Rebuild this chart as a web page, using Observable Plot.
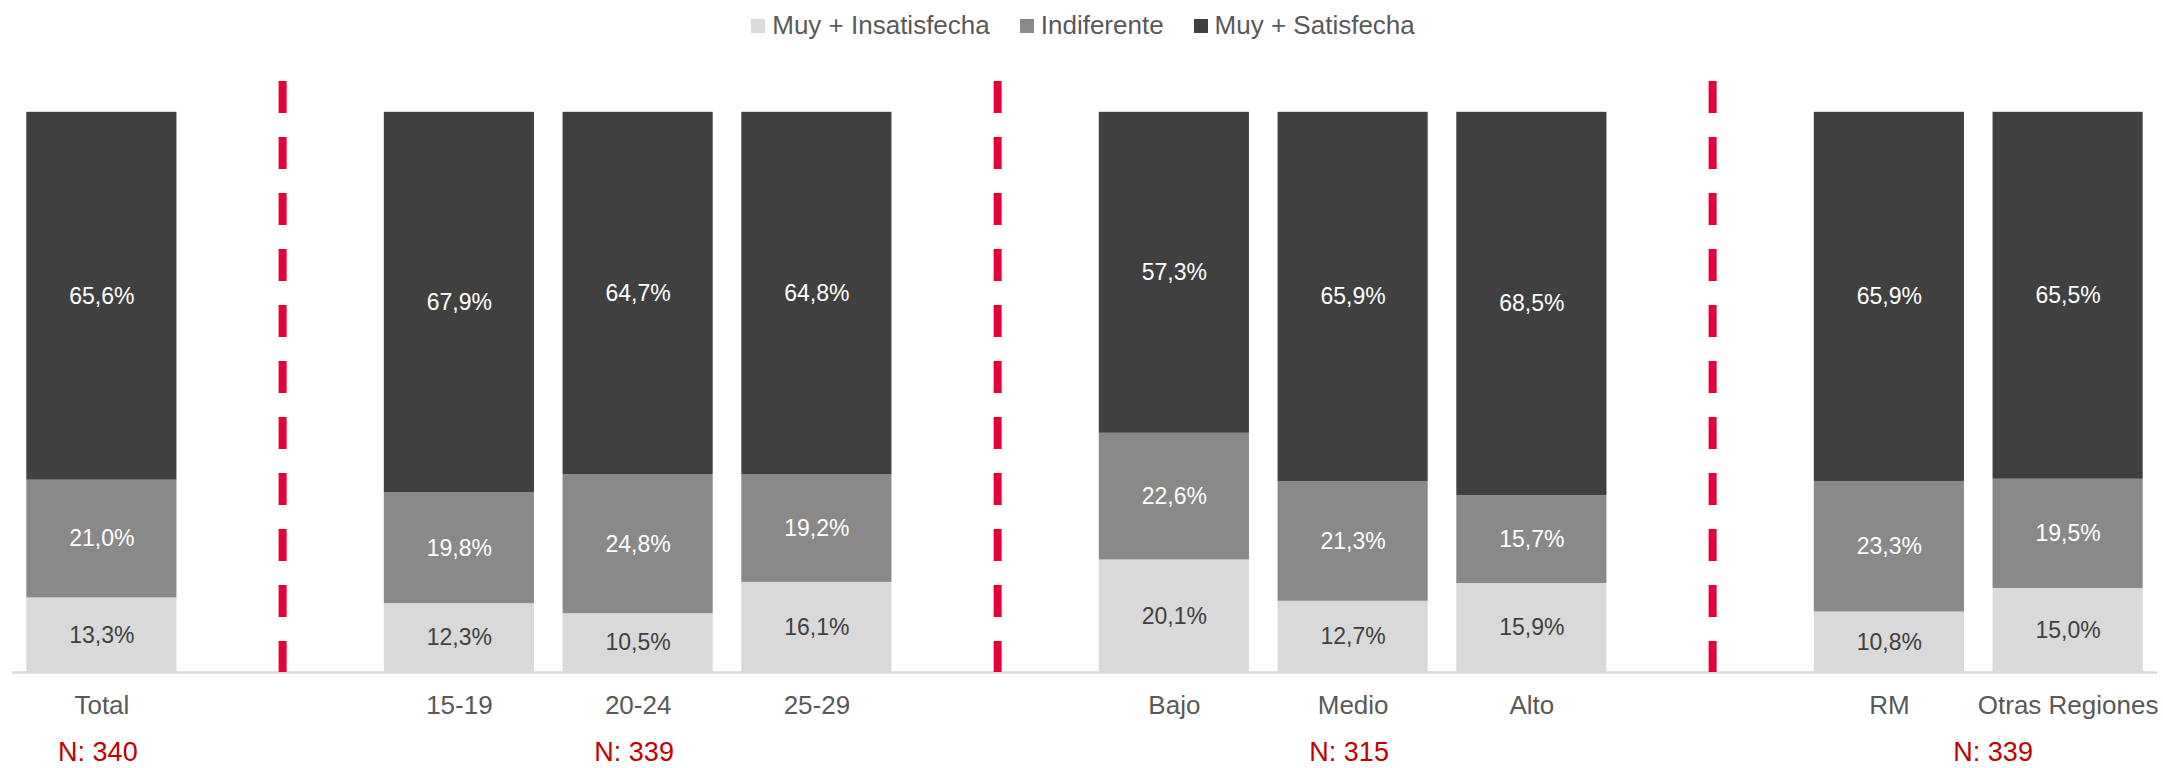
<!DOCTYPE html>
<html>
<head>
<meta charset="utf-8">
<script src="https://cdn.jsdelivr.net/npm/d3@7"></script>
<script src="https://cdn.jsdelivr.net/npm/@observablehq/plot@0.6"></script>
<style>
  html, body { margin: 0; padding: 0; background: #fff; }
  body { width: 2163px; font-family: "Liberation Sans", Arial, sans-serif; }
  #legend { height: 50px; display: flex; justify-content: center; align-items: center; padding-left: 3px; box-sizing: border-box; }
  .item { display: flex; align-items: center; margin: 0 15px; font-size: 26px; color: #595959; }
  .sw { width: 14px; height: 14px; margin-right: 7px; margin-top: 2px; }
</style>
</head>
<body>
<div id="legend"></div>
<div id="chart"></div>
<script>
// ---- data ----
const categories = ["Total", "sep1", "15-19", "20-24", "25-29", "sep2", "Bajo", "Medio", "Alto", "sep3", "RM", "Otras Regiones"];
const separators = ["sep1", "sep2", "sep3"];
const barCategories = ["Total", "15-19", "20-24", "25-29", "Bajo", "Medio", "Alto", "RM", "Otras Regiones"];
const seriesNames = ["Muy + Insatisfecha", "Indiferente", "Muy + Satisfecha"];
const insatisfecha = [13.3, 12.3, 10.5, 16.1, 20.1, 12.7, 15.9, 10.8, 15.0];
const indiferente  = [21.0, 19.8, 24.8, 19.2, 22.6, 21.3, 15.7, 23.3, 19.5];
const satisfecha   = [65.6, 67.9, 64.7, 64.8, 57.3, 65.9, 68.5, 65.9, 65.5];
const nCategories = ["Total", "20-24", "Medio", "Otras Regiones"];
const nLabels = ["N: 340", "N: 339", "N: 315", "N: 339"];

// ---- styles ----
const fills = {"Muy + Insatisfecha": "#d9d9d9", "Indiferente": "#898989", "Muy + Satisfecha": "#404040"};
const textFills = {"Muy + Insatisfecha": "#404040", "Indiferente": "#ffffff", "Muy + Satisfecha": "#ffffff"};

const seriesValues = [insatisfecha, indiferente, satisfecha];
const rows = [];
barCategories.forEach((c, i) => {
  seriesNames.forEach((s, j) => rows.push({cat: c, series: s, value: seriesValues[j][i]}));
});
const nRows = nCategories.map((c, i) => ({cat: c, label: nLabels[i]}));
const fmt = v => v.toFixed(1).replace(".", ",") + "%";

// legend
const legend = document.getElementById("legend");
seriesNames.forEach(s => {
  const it = document.createElement("div");
  it.className = "item";
  const sw = document.createElement("div");
  sw.className = "sw";
  sw.style.background = fills[s];
  const t = document.createElement("span");
  t.textContent = s;
  it.appendChild(sw); it.appendChild(t);
  legend.appendChild(it);
});

const stackOpts = {x: "cat", y: "value", z: "series", offset: "normalize", order: seriesNames};

const chart = Plot.plot({
  width: 2163,
  height: 718,
  marginLeft: 12,
  marginRight: 6,
  marginTop: 31,
  marginBottom: 96,
  style: {fontFamily: '"Liberation Sans", Arial, sans-serif', background: "#fff"},
  x: {type: "band", domain: categories, paddingInner: 0.16, paddingOuter: 0.08, round: false, axis: null},
  y: {domain: [0, 1.055], axis: null},
  color: {type: "identity"},
  marks: [
    Plot.barY(rows, Plot.stackY({...stackOpts, fill: d => fills[d.series]})),
    Plot.text(rows, Plot.stackY({...stackOpts, text: d => fmt(d.value), fill: d => textFills[d.series], fontSize: 23})),
    Plot.ruleY([0], {stroke: "#d9d9d9", strokeWidth: 2.5}),
    Plot.ruleX(separators, {x: d => d, y1: 1.055, y2: 0, dx: 2, stroke: "#e4003a", strokeWidth: 8, strokeDasharray: "32,24"}),
    Plot.axisX({ticks: barCategories, tickSize: 0, tickPadding: 23, fontSize: 26, color: "#595959", label: null, tickFormat: d => d}),
    Plot.text(nRows, {x: "cat", y: 0, text: "label", dy: 80, dx: -4, fill: "#c00000", fontSize: 27, filter: d => d.cat !== "Otras Regiones"}),
    Plot.text(nRows, {x: "cat", y: 0, text: "label", dy: 80, dx: -75, fill: "#c00000", fontSize: 27, filter: d => d.cat === "Otras Regiones"})
  ]
});
document.getElementById("chart").appendChild(chart);
</script>
</body>
</html>
